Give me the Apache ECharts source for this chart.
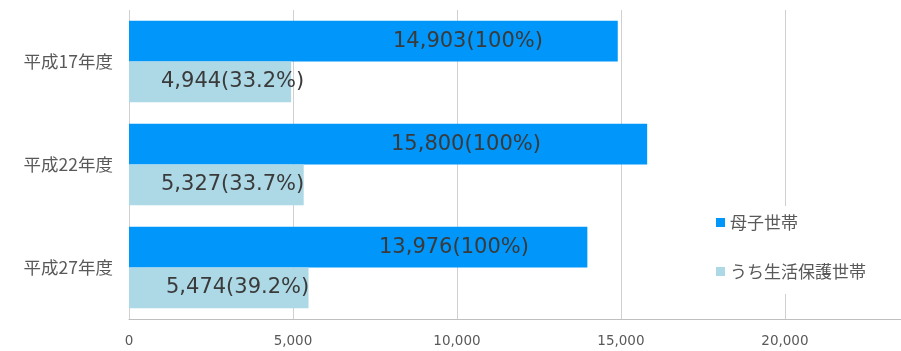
<!DOCTYPE html>
<html>
<head>
<meta charset="utf-8">
<script src="https://cdn.jsdelivr.net/npm/echarts@6/dist/echarts.min.js"></script>
<style>
  html, body { margin: 0; padding: 0; background: #fff; }
  #chart { width: 901px; height: 351px; }
</style>
</head>
<body>
<div id="chart"></div>
<script>
// 母子世帯数と、そのうち生活保護を受けている世帯数
const years = ['平成17年度', '平成22年度', '平成27年度'];
const seriesNames = ['母子世帯', 'うち生活保護世帯'];
const motherChild = [14903, 15800, 13976];
const welfare = [4944, 5327, 5474];
const xTicks = [0, 5000, 10000, 15000, 20000];

// label placement for each bar (distance from the bar start)
const blueLabelDist = [264, 262, 250];
const lightLabelDist = [32, 32, 37];

const fmt = v => v.toLocaleString('en-US');
const FONT = '"Noto Sans CJK JP", "Noto Sans", sans-serif';
const NUM_FONT = '"DejaVu Sans", "Noto Sans", sans-serif';

const chart = echarts.init(document.getElementById('chart'), null, { renderer: 'canvas' });

chart.setOption({
  animation: false,
  backgroundColor: '#ffffff',
  grid: { left: 129, top: 10, bottom: 32, right: 0, containLabel: false },
  legend: {
    orient: 'vertical',
    left: 706,
    top: 206,
    itemWidth: 9,
    itemHeight: 9,
    itemGap: 32,
    padding: [8, 40, 14, 10],
    backgroundColor: '#ffffff',
    icon: 'rect',
    textStyle: { fontFamily: FONT, fontSize: 17, color: '#595959', padding: [0, 0, 0, 0] },
    data: seriesNames
  },
  xAxis: {
    type: 'value',
    min: xTicks[0],
    max: 23540,
    interval: xTicks[1] - xTicks[0],
    axisLine: { show: true, lineStyle: { color: '#bfbfbf' } },
    axisTick: { show: false },
    splitLine: { show: true, lineStyle: { color: '#d0d0d0' } },
    axisLabel: {
      fontFamily: NUM_FONT, fontSize: 13.5, color: '#595959', margin: 15,
      showMaxLabel: false,
      formatter: v => xTicks.includes(v) ? fmt(v) : ''
    }
  },
  yAxis: {
    type: 'category',
    inverse: true,
    data: years,
    axisLine: { show: false },
    axisTick: { show: false },
    axisLabel: { fontFamily: FONT, fontSize: 17.5, color: '#595959', margin: 16 }
  },
  series: [
    {
      name: seriesNames[0],
      type: 'bar',
      barGap: '0%',
      barCategoryGap: '21%',
      itemStyle: { color: '#0096fa' },
      data: motherChild.map((v, i) => ({
        value: v,
        label: {
          show: true, position: 'insideLeft', distance: blueLabelDist[i],
          formatter: fmt(v) + '(100%)',
          fontFamily: NUM_FONT, fontSize: 21, color: '#3a3a3a'
        }
      }))
    },
    {
      name: seriesNames[1],
      type: 'bar',
      barGap: '0%',
      barCategoryGap: '21%',
      itemStyle: { color: '#add8e6' },
      data: welfare.map((v, i) => ({
        value: v,
        label: {
          show: true, position: 'insideLeft', distance: lightLabelDist[i],
          formatter: fmt(v) + '(' + (v / motherChild[i] * 100).toFixed(1) + '%)',
          fontFamily: NUM_FONT, fontSize: 21, color: '#3a3a3a'
        }
      }))
    }
  ]
});
</script>
</body>
</html>
